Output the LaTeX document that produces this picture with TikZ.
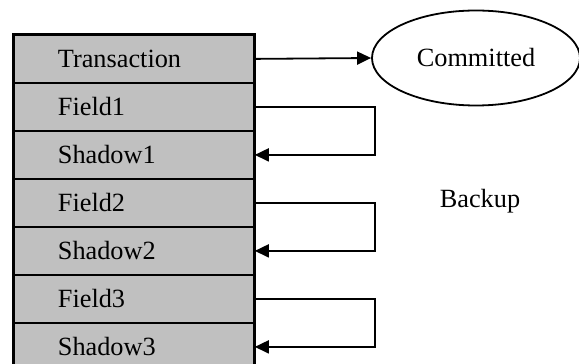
\documentclass[tikz,border=0pt]{standalone}
\usepackage{fontspec}
\setmainfont{Liberation Serif}
\usetikzlibrary{arrows.meta,shapes.geometric}
\begin{document}
\begin{tikzpicture}[x=1pt,y=1pt,
  every node/.style={font=\fontsize{26.3}{30}\selectfont},
  rowbox/.style={draw=black, line width=1.8pt, fill=rowgray, rectangle,
    minimum width=240pt, minimum height=48pt, inner xsep=44pt,
    text width=152pt, align=left, anchor=north west},
  arr/.style={line width=1.8pt, -{Triangle[length=14pt,width=13pt]}}]
\definecolor{rowgray}{HTML}{C0C0C0}
\useasboundingbox (0,0) rectangle (579,364);
\clip (0,0) rectangle (579,364);
% record of fields and their shadow copies
\node[rowbox] (t)  at (13,330) {Transaction};
\node[rowbox] (f1) at (13,282) {Field1};
\node[rowbox] (s1) at (13,234) {Shadow1};
\node[rowbox] (f2) at (13,186) {Field2};
\node[rowbox] (s2) at (13,138) {Shadow2};
\node[rowbox] (f3) at (13,90)  {Field3};
\node[rowbox] (s3) at (13,42)  {Shadow3};
\draw[line width=2.6pt] (t.north west) rectangle (s3.south east);
% commit state
\node[ellipse, draw, line width=1.8pt, minimum width=208pt, minimum height=95pt, inner sep=0pt] (c) at (476,306) {Committed};
\draw[arr] (t.east) -- (c.west);
% backup loops from each field to its shadow
\draw[arr] (f1.east) -- ++(120,0) |- (s1.east);
\draw[arr] (f2.east) -- ++(120,0) |- (s2.east);
\draw[arr] (f3.east) -- ++(120,0) |- (s3.east);
\node (b) at (480,163) {Backup};
\end{tikzpicture}
\end{document}
